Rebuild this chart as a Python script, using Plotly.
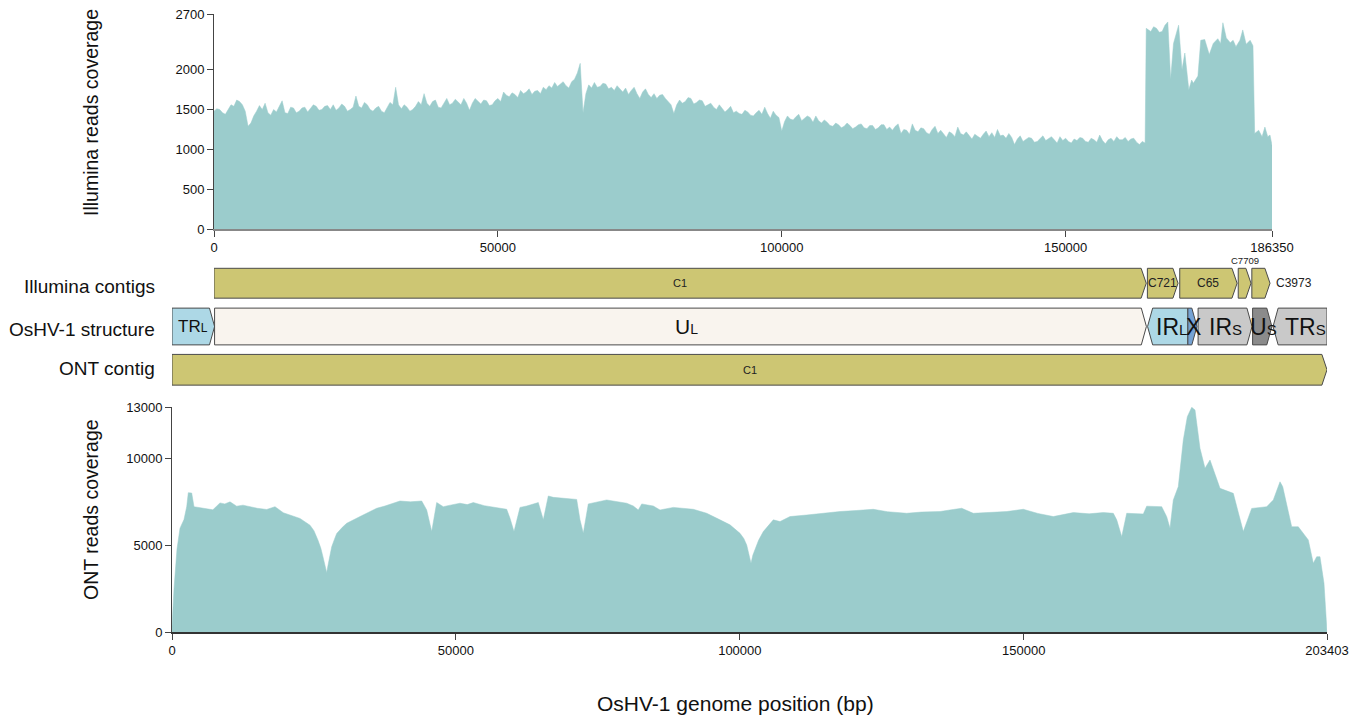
import plotly.graph_objects as go

# ---------------- data ----------------
ill_len = 186350
ont_len = 203403

# Illumina coverage at whole kb (0..163) and half kb (0.5..163.5)
ill_cov_int = [
    1480, 1500, 1440, 1560, 1620, 1560, 1290, 1420, 1550, 1580,
    1430, 1470, 1610, 1450, 1520, 1480, 1530, 1520, 1540, 1500,
    1550, 1560, 1520, 1540, 1500, 1670, 1520, 1560, 1480, 1540,
    1460, 1590, 1780, 1510, 1530, 1500, 1600, 1700, 1540, 1620,
    1520, 1640, 1580, 1600, 1640, 1490, 1640, 1570, 1610, 1560,
    1640, 1720, 1660, 1690, 1740, 1720, 1690, 1740, 1780, 1800,
    1840, 1820, 1800, 1850, 1960, 1460, 1810, 1840, 1790, 1820,
    1780, 1800, 1720, 1690, 1780, 1640, 1760, 1650, 1640, 1690,
    1600, 1450, 1620, 1600, 1640, 1590, 1610, 1560, 1530, 1560,
    1470, 1540, 1480, 1440, 1470, 1420, 1490, 1530, 1390, 1430,
    1230, 1420, 1370, 1440, 1390, 1400, 1420, 1330, 1340, 1290,
    1310, 1290, 1300, 1280, 1320, 1260, 1300, 1270, 1310, 1280,
    1290, 1200, 1240, 1320, 1220, 1260, 1190, 1290, 1240, 1150,
    1200, 1280, 1180, 1170, 1190, 1140, 1230, 1210, 1250, 1180,
    1200, 1060, 1170, 1120, 1140, 1100, 1170, 1130, 1120, 1160,
    1140, 1080, 1110, 1140, 1090, 1120, 1180, 1070, 1140, 1160,
    1120, 1100, 1140, 1060]
ill_cov_half = [
    1510, 1460, 1500, 1540, 1600, 1480, 1330, 1480, 1500, 1460,
    1500, 1540, 1460, 1530, 1460, 1520, 1470, 1560, 1490, 1540,
    1500, 1490, 1570, 1480, 1530, 1540, 1590, 1500, 1520, 1480,
    1520, 1560, 1560, 1560, 1480, 1540, 1560, 1580, 1600, 1530,
    1580, 1560, 1630, 1560, 1580, 1580, 1600, 1620, 1550, 1610,
    1600, 1680, 1710, 1650, 1700, 1760, 1730, 1700, 1750, 1770,
    1790, 1850, 1770, 1880, 2080, 1700, 1770, 1780, 1830, 1760,
    1740, 1760, 1770, 1740, 1700, 1720, 1690, 1700, 1680, 1640,
    1560, 1560, 1580, 1650, 1570, 1620, 1540, 1580, 1500, 1510,
    1500, 1460, 1450, 1490, 1430, 1460, 1440, 1450, 1480, 1400,
    1350, 1380, 1410, 1360, 1420, 1340, 1360, 1370, 1300, 1330,
    1270, 1330, 1260, 1310, 1270, 1300, 1250, 1310, 1250, 1240,
    1320, 1250, 1190, 1240, 1270, 1210, 1250, 1200, 1190, 1220,
    1160, 1200, 1220, 1130, 1160, 1190, 1160, 1150, 1170, 1140,
    1150, 1130, 1100, 1150, 1090, 1130, 1110, 1160, 1080, 1110,
    1100, 1130, 1150, 1100, 1140, 1090, 1110, 1120, 1100, 1120,
    1150, 1130, 1090, 1100]
# repeat region (kb positions and values)
ill_tail_kb = [164.0, 164.2, 165, 165.5, 166, 166.5, 167, 167.5, 168, 168.5, 169, 169.5, 169.9,
               170.5, 171, 171.7, 172.2, 172.5, 173.3, 173.8, 174.5, 175.3, 176, 176.8, 177.3,
               177.7, 178.3, 179, 179.5, 180, 180.7, 181.2, 181.8, 182.5, 183, 183.3, 184,
               184.6, 185.1, 185.6, 186, 186.35]
ill_tail_cov = [1080, 2520, 2480, 2540, 2520, 2470, 2480, 2560, 2600, 1880, 2330, 2480, 2560,
                2000, 2210, 1750, 1870, 1830, 1920, 2370, 2380, 2190, 2330, 2390, 2330,
                2590, 2400, 2340, 2370, 2290, 2370, 2500, 2320, 2370, 2300, 1200, 1240,
                1160, 1280, 1160, 1180, 1050]

ill_pairs = sorted([(k * 1000, v) for k, v in enumerate(ill_cov_int)] +
                   [((k + 0.5) * 1000, v) for k, v in enumerate(ill_cov_half)] +
                   [(k * 1000, v) for k, v in zip(ill_tail_kb, ill_tail_cov)])
ill_pos = [p for p, _ in ill_pairs]
ill_cov = [v for _, v in ill_pairs]

ont_pos = [
    0, 352, 880, 1409, 2113, 2589, 2870, 3469, 3874, 5000, 6111, 7200, 8453, 9300, 10214,
    11394, 12500, 13736, 15000, 16677, 17400, 18139, 19600, 21000, 22542, 24303, 25000,
    25712, 26200, 26592, 27000, 27244, 27500, 28124, 28600, 29005, 30000, 30766, 33108,
    34500, 36049, 37500, 38973, 40152, 42000, 43974, 44854, 45735, 46615, 47778, 49000,
    50719, 52000, 53061, 55000, 56584, 58943,
    59524, 60229, 61285, 62465, 64508, 65389, 66269, 67150, 71271, 71852, 72433, 73314,
    76554, 80076, 81239, 82119, 82718, 84761, 85941, 88283, 91805, 94165, 96507, 98268,
    100029, 100700, 101209, 101966, 102300, 102670, 103300, 104132, 105893, 107073,
    108834, 111775, 114000,
    117640, 120500, 123504, 126000, 129386, 132000, 135250, 137000, 139072, 141115,
    144000, 146998, 149921, 152500, 155205, 158727, 161500, 164000, 165771, 166370,
    167250, 168131, 171054, 171653, 174295, 175175, 175755, 176336, 177217, 178097,
    178802, 179577, 180158, 181038, 181919, 182799, 184560, 186902, 188663, 190142,
    192784, 193946, 195124, 195600, 197185, 198347, 200108, 200989, 201588, 202169,
    202873, 203348, 203403]
ont_cov = [
    300, 2500, 4800, 6000, 6500, 7240, 8050, 8030, 7240, 7180, 7130, 7060, 7460, 7400, 7520,
    7270, 7330, 7240, 7150, 7080, 7180, 7240, 6890, 6750, 6560, 6170, 5850,
    5300, 4850, 4340, 3800, 3430, 3900, 4920, 5350, 5690, 6050, 6280, 6670,
    6900, 7150, 7280, 7440, 7570, 7520, 7570, 7050, 5800, 7480, 7240, 7330,
    7440, 7360, 7480, 7300, 7200, 7090,
    6570, 5800, 7200, 7280, 7480, 6480, 7860, 7780, 7660, 6480, 5710, 7400,
    7630, 7440, 7280, 7050, 7400, 7280, 7050, 7200, 7090, 6860, 6480, 6190,
    5700, 5400, 5030, 3970, 4450, 4740, 5300, 5800, 6480, 6380,
    6670, 6760, 6850,
    6960, 7020, 7090, 6950, 6860, 6930, 6960, 7050, 7150, 6860,
    6900, 6960, 7090, 6850, 6670, 6900, 6830, 6900, 6860, 6480,
    5510, 6860, 6820, 7270, 7240, 6660, 5990, 7630, 8400, 11090,
    12440, 12980, 12830, 10610, 9460, 9940, 8300, 8010, 5800, 7140,
    7240, 7630, 8680, 8400, 6080, 6080, 5320, 3970, 4350, 4350,
    2810, 500, 0]

ill_ticks = [0, 50000, 100000, 150000, 186350]
ont_ticks = [0, 50000, 100000, 150000, 203403]
ill_yticks = [0, 500, 1000, 1500, 2000, 2700]
ont_yticks = [0, 5000, 10000, 13000]

# Illumina contigs (Illumina coordinates)
contig_names = ["C1", "C721", "C65", "C7709", "C3973"]
contig_start = [0, 164400, 170100, 180400, 182800]
contig_end = [164200, 169800, 180200, 182650, 186000]

# OsHV-1 structure (ONT coordinates)
struct_names = ["TR|L", "U|L", "IR|L", "X|", "IR|S", "U|S", "TR|S"]
struct_start = [0, 7500, 171800, 178900, 180700, 190300, 193900]
struct_end = [7500, 171600, 178900, 180500, 190200, 193700, 203403]
struct_dir = [1, 1, -1, 1, 1, 1, -1]
struct_color = ["#add8e6", "#f9f4ee", "#add8e6", "#76a3d4", "#c9c9c9", "#8b8b8b", "#c9c9c9"]

# ONT contig
ont_contig_name = ["C1"]
ont_contig_start = [0]
ont_contig_end = [203403]

# ---------------- layout helpers ----------------
OFF = 8                      # page body margin
W, H = 1358 - OFF, 716 - OFF
def px(x):
    return (x - OFF) / W
def py(y):
    return (H - (y - OFF)) / H

FONT = "Liberation Sans, Arial, sans-serif"
FILL = "#9bcccc"
OLIVE = "#cdc673"
EDGE = "#4a4a4a"
TIP = 900

fig = go.Figure()

fig.add_trace(go.Scatter(x=ill_pos, y=ill_cov, mode="lines", fill="tozeroy",
                         line=dict(color=FILL, width=0.5), fillcolor=FILL,
                         xaxis="x", yaxis="y", hoverinfo="skip", showlegend=False))
fig.add_trace(go.Scatter(x=ont_pos, y=ont_cov, mode="lines", fill="tozeroy",
                         line=dict(color=FILL, width=0.5), fillcolor=FILL,
                         xaxis="x2", yaxis="y2", hoverinfo="skip", showlegend=False))


def arrow(s, e, yc, h, d, tip=TIP):
    if d > 0:
        xs = [s, e - tip, e, e - tip, s, s]
        ys = [yc - h, yc - h, yc, yc + h, yc + h, yc - h]
    else:
        xs = [e, s + tip, s, s + tip, e, e]
        ys = [yc - h, yc - h, yc, yc + h, yc + h, yc - h]
    return xs, ys


def add_box(xs, ys, color, xa, ya):
    fig.add_trace(go.Scatter(x=xs, y=ys, mode="lines", fill="toself", fillcolor=color,
                             line=dict(color=EDGE, width=1), xaxis=xa, yaxis=ya,
                             hoverinfo="skip", showlegend=False))

annotations = []

def ann(**kw):
    kw.setdefault("showarrow", False)
    kw.setdefault("xanchor", "center")
    kw.setdefault("yanchor", "middle")
    annotations.append(kw)

# Illumina contigs row (y=2), on the Illumina axis
for name, s, e in zip(contig_names, contig_start, contig_end):
    xs, ys = arrow(s, e, 2, 0.345, 1)
    add_box(xs, ys, OLIVE, "x", "y4")
    mid = (s + e) / 2
    if name == "C7709":
        ann(x=mid, y=2.36, xref="x", yref="y4", text=name, yanchor="bottom",
            font=dict(size=9.5, color="#222", family=FONT))
    elif name == "C3973":
        ann(x=e, y=2, xref="x", yref="y4", text=name, xanchor="left", xshift=4,
            font=dict(size=12, color="#222", family=FONT))
    else:
        ann(x=mid, y=2, xref="x", yref="y4", text=name,
            font=dict(size=12 if name != "C1" else 11, color="#222", family=FONT))

# structure row (y=1)
big_sizes = [17, 21, 23, 23, 23, 23, 23]
small_sizes = [12, 14, 15, 15, 15, 15, 15]
label_shift = [0, 6, 4, 1, 0, 1, 5]
for name, s, e, d, c in zip(struct_names, struct_start, struct_end, struct_dir, struct_color):
    xs, ys = arrow(s, e, 1, 0.425, d)
    add_box(xs, ys, c, "x2", "y3")
for name, s, e, bs, ss, sh in zip(struct_names, struct_start, struct_end, big_sizes,
                                  small_sizes, label_shift):
    main, sub = name.split("|")
    txt = main + (f'<span style="font-size:{ss}px">{sub}</span>' if sub else "")
    ann(x=(s + e) / 2, y=1, xref="x2", yref="y3", text=txt, xshift=sh,
        font=dict(size=bs, color="#111", family=FONT))

# ONT contig row (y=0)
for name, s, e in zip(ont_contig_name, ont_contig_start, ont_contig_end):
    xs, ys = arrow(s, e, 0, 0.355, 1)
    add_box(xs, ys, OLIVE, "x2", "y3")
    ann(x=(s + e) / 2, y=0, xref="x2", yref="y3", text=name,
        font=dict(size=11, color="#222", family=FONT))

# row labels
for txt, yy in [("Illumina contigs", 286), ("OsHV-1 structure", 329), ("ONT contig", 368)]:
    ann(x=px(157), y=py(yy), xref="paper", yref="paper", text=txt, xanchor="right",
        font=dict(size=19, color="#111", family=FONT))

# axis titles
ann(x=px(91), y=py(113), xref="paper", yref="paper", text="Illumina reads coverage",
    textangle=-90, font=dict(size=19.5, color="#111", family=FONT))
ann(x=px(91), y=py(510), xref="paper", yref="paper", text="ONT reads coverage",
    textangle=-90, font=dict(size=19.5, color="#111", family=FONT))
ann(x=px(736), y=py(703), xref="paper", yref="paper", text="OsHV-1 genome position (bp)",
    font=dict(size=21, color="#111", family=FONT))

tickfont = dict(size=13, color="#111", family=FONT)
common_x = dict(showgrid=False, zeroline=False, showline=True, ticks="outside", ticklen=6,
                tickcolor="#444", tickfont=tickfont, fixedrange=True, automargin=False,
                ticklabeloverflow="allow")
common_y = dict(showgrid=False, zeroline=False, showline=True, linecolor="#444", ticks="outside",
                ticklen=6, tickcolor="#444", tickfont=tickfont, fixedrange=True, automargin=False,
                ticklabeloverflow="allow")
mid_dom = [py(391.4), py(261.6)]

fig.update_layout(
    width=W, height=H, margin=dict(l=0, r=0, t=0, b=0, autoexpand=False),
    paper_bgcolor="white", plot_bgcolor="rgba(0,0,0,0)",
    font=dict(family=FONT),
    xaxis=dict(domain=[px(214), px(1272)], range=[0, ill_len], anchor="y",
               tickvals=ill_ticks, ticktext=[str(t) for t in ill_ticks],
               linecolor="#888", linewidth=1.5, **common_x),
    yaxis=dict(domain=[py(229), py(14)], range=[0, 2700], anchor="x",
               tickvals=ill_yticks, ticktext=[str(t) for t in ill_yticks], **common_y),
    xaxis2=dict(domain=[px(172), px(1327)], range=[0, ont_len], anchor="y2",
                tickvals=ont_ticks, ticktext=[str(t) for t in ont_ticks],
                linecolor="#333", linewidth=1.5, **common_x),
    yaxis2=dict(domain=[py(632), py(407)], range=[0, 13000], anchor="x2",
                tickvals=ont_yticks, ticktext=[str(t) for t in ont_yticks], **common_y),
    yaxis3=dict(domain=mid_dom, range=[-0.5, 2.5], anchor="x2",
                visible=False, fixedrange=True, automargin=False),
    yaxis4=dict(domain=mid_dom, range=[-0.5, 2.5], anchor="x",
                visible=False, fixedrange=True, automargin=False),
    annotations=annotations,
)

fig.write_html("out.html")
